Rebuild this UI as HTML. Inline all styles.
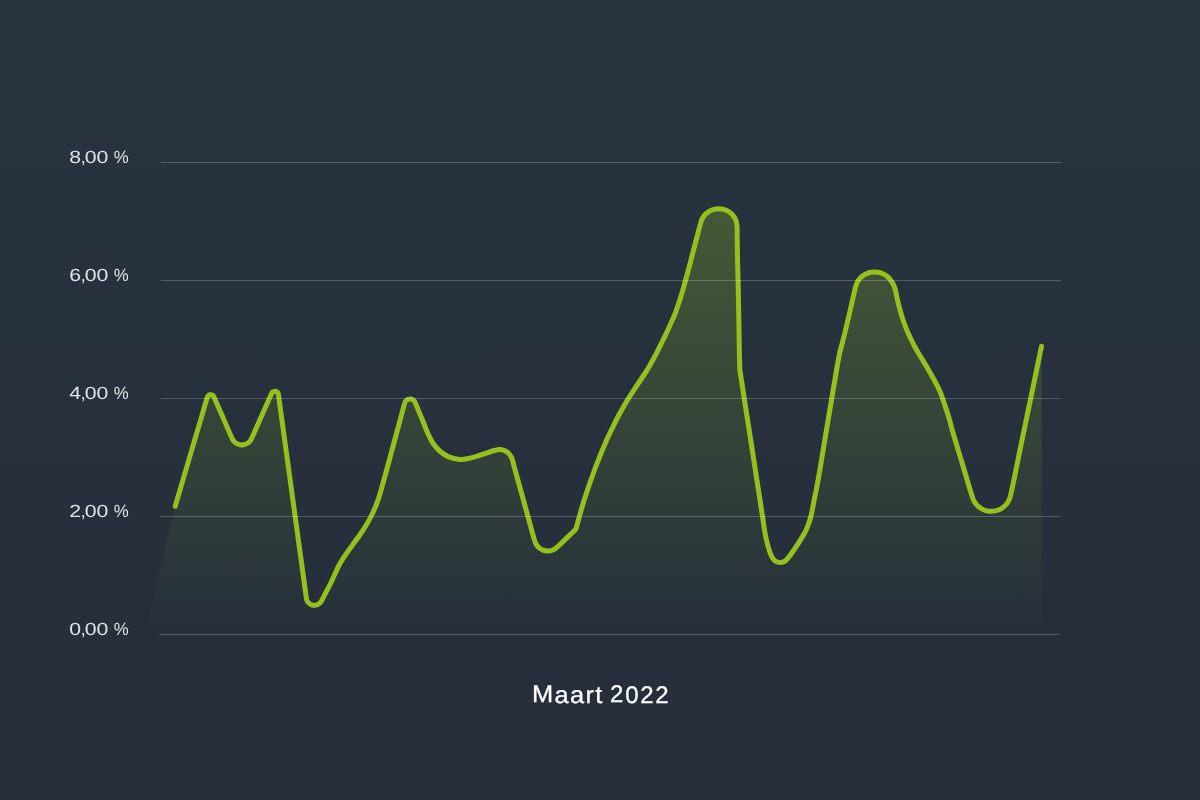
<!DOCTYPE html>
<html><head><meta charset="utf-8"><title>Maart 2022</title>
<style>
html,body{margin:0;padding:0}
body{width:1200px;height:800px;overflow:hidden;position:relative;background:linear-gradient(180deg,#29333f 0%,#252e3a 100%);font-family:"Liberation Sans",sans-serif}
svg{position:absolute;left:0;top:0}
.yl{will-change:transform;position:absolute;left:0;width:140px;height:20px;line-height:20px;font-size:17.7px;color:#dfe3e7;white-space:nowrap}
.yl span{text-rendering:geometricPrecision;position:absolute;top:0;left:0;transform-origin:0 0;display:block}
.title{will-change:transform;position:absolute;left:0;top:680px;width:1200px;height:30px;line-height:30px;font-size:24px;color:#fff;white-space:nowrap;-webkit-text-stroke:0.3px #fff}
.title span{text-rendering:geometricPrecision;position:absolute;left:0;top:0;transform-origin:0 0;display:block}
</style></head><body>
<svg width="1200" height="800" viewBox="0 0 1200 800">
<defs><linearGradient id="g" gradientUnits="userSpaceOnUse" x1="0" y1="206" x2="0" y2="634">
<stop offset="0" stop-color="#95c11f" stop-opacity="0.27"/>
<stop offset="1" stop-color="#95c11f" stop-opacity="0"/>
</linearGradient></defs>
<path d="M175.20 506.25 C185.07 472.70 194.13 441.94 204.82 405.59 C205.86 402.07 206.29 400.36 207.29 397.20 C207.45 396.71 207.53 396.52 207.83 396.11 C208.14 395.70 208.29 395.55 208.71 395.27 C209.14 394.99 209.33 394.90 209.83 394.78 C210.32 394.66 210.53 394.65 211.04 394.71 C211.54 394.76 211.75 394.82 212.20 395.05 C212.66 395.27 212.83 395.40 213.18 395.77 C213.53 396.14 213.64 396.32 213.86 396.78 C215.25 399.79 215.90 401.42 217.37 404.79 C219.19 408.91 219.88 410.49 221.69 414.61 C226.12 424.71 228.10 429.67 232.24 438.65 C232.85 439.96 233.15 440.47 234.13 441.53 C235.11 442.60 235.58 442.96 236.85 443.65 C238.12 444.34 238.68 444.54 240.11 444.78 C241.54 445.02 242.13 445.02 243.56 444.78 C244.99 444.55 245.55 444.36 246.82 443.67 C248.10 442.99 248.57 442.63 249.55 441.57 C250.54 440.50 250.84 440.00 251.45 438.69 C255.64 429.73 257.64 424.78 262.12 414.70 C264.55 409.23 265.47 407.15 267.91 401.68 C269.44 398.23 270.13 396.52 271.56 393.46 C271.77 393.01 271.87 392.85 272.20 392.49 C272.53 392.13 272.68 392.00 273.11 391.77 C273.53 391.53 273.72 391.47 274.20 391.38 C274.68 391.29 274.88 391.29 275.36 391.35 C275.84 391.42 276.03 391.48 276.46 391.70 C276.90 391.92 277.06 392.03 277.40 392.38 C277.75 392.72 277.86 392.88 278.08 393.32 C278.29 393.76 278.34 393.95 278.42 394.43 C278.94 397.77 279.13 399.60 279.64 403.35 C288.06 464.73 294.76 513.57 303.68 578.58 C304.82 586.91 305.25 590.99 306.40 598.40 C306.56 599.44 306.67 599.85 307.13 600.80 C307.59 601.75 307.83 602.10 308.56 602.86 C309.30 603.62 309.64 603.88 310.57 604.38 C311.50 604.87 311.91 605.01 312.95 605.19 C313.99 605.37 314.41 605.38 315.46 605.23 C316.50 605.08 316.91 604.95 317.86 604.49 C318.81 604.02 319.16 603.77 319.91 603.04 C320.67 602.30 320.89 601.94 321.41 601.02 C323.29 597.72 323.84 596.38 325.61 593.01 C327.37 589.65 328.12 588.41 329.80 585.00 C331.85 580.84 332.53 579.20 334.50 575.00 C336.47 570.80 336.98 569.07 339.20 565.00 C341.56 560.66 342.66 559.11 345.40 555.00 C348.25 550.71 349.49 549.18 352.50 545.00 C355.54 540.78 356.85 539.28 359.80 535.00 C362.64 530.88 363.71 529.29 366.30 525.00 C368.41 521.51 369.19 520.16 371.00 516.50 C373.35 511.75 374.21 509.91 376.20 505.00 C377.87 500.88 378.36 499.24 379.70 495.00 C381.01 490.84 381.33 489.20 382.50 485.00 C383.66 480.80 384.11 479.20 385.25 475.00 C391.50 451.98 394.74 439.96 401.25 415.93 C402.74 410.45 403.34 407.81 404.78 402.90 C405.01 402.13 405.13 401.83 405.60 401.17 C406.06 400.52 406.30 400.29 406.96 399.84 C407.62 399.39 407.92 399.26 408.70 399.07 C409.47 398.87 409.80 398.85 410.60 398.94 C411.39 399.03 411.71 399.12 412.42 399.48 C413.13 399.84 413.40 400.04 413.94 400.62 C414.49 401.21 414.65 401.49 414.98 402.22 C416.62 405.85 417.23 407.61 418.86 411.51 C420.50 415.41 421.14 416.89 422.75 420.80 C424.98 426.23 425.58 428.40 428.00 433.75 C429.81 437.74 430.32 439.39 432.80 443.00 C435.40 446.79 436.53 448.23 440.00 451.25 C443.30 454.12 444.72 455.21 448.75 456.90 C452.99 458.68 454.81 459.14 459.40 459.40 C463.88 459.65 465.62 459.05 470.00 458.10 C475.35 456.94 477.28 456.04 482.50 454.40 C487.78 452.74 489.65 451.67 495.00 450.25 C497.29 449.64 498.25 449.27 500.60 449.60 C503.39 449.99 504.58 450.31 506.90 451.90 C509.20 453.47 510.04 454.39 511.25 456.90 C513.26 461.09 513.12 463.04 514.40 467.50 C515.66 471.90 516.08 473.59 517.30 478.00 C520.97 491.25 522.37 496.30 526.04 509.55 C529.71 522.81 531.21 529.19 534.78 541.11 C535.34 542.97 535.65 543.70 536.77 545.29 C537.89 546.88 538.46 547.45 540.05 548.56 C541.65 549.68 542.37 550.02 544.25 550.53 C546.12 551.04 546.92 551.11 548.86 550.96 C550.80 550.81 551.57 550.61 553.35 549.81 C555.12 549.01 555.72 548.49 557.18 547.21 C561.28 543.59 562.61 541.96 566.54 538.15 C570.47 534.35 572.78 532.12 575.90 529.10 C578.67 519.40 580.38 512.12 584.20 500.00 C588.20 487.29 589.89 482.50 594.50 470.00 C598.42 459.39 600.17 455.45 604.50 445.00 C606.26 440.75 607.05 439.17 609.00 435.00 C610.98 430.77 611.79 429.19 613.85 425.00 C615.92 420.79 616.64 419.14 618.85 415.00 C621.12 410.74 622.06 409.16 624.50 405.00 C626.99 400.76 627.96 399.15 630.60 395.00 C633.30 390.75 634.41 389.19 637.20 385.00 C640.00 380.79 641.12 379.22 643.90 375.00 C645.27 372.92 645.82 372.14 647.10 370.00 C649.58 365.84 650.52 364.25 652.85 360.00 C655.14 355.84 655.95 354.23 658.10 350.00 C660.22 345.83 660.94 344.20 663.00 340.00 C665.06 335.80 665.92 334.24 667.90 330.00 C669.45 326.68 669.90 325.35 671.40 322.00 C672.72 319.05 673.41 318.01 674.60 315.00 C676.23 310.86 676.68 309.22 678.10 305.00 C679.51 300.82 680.05 299.22 681.35 295.00 C682.64 290.82 683.06 289.21 684.25 285.00 C685.43 280.81 685.86 279.20 687.00 275.00 C688.36 269.96 688.88 268.05 690.20 263.00 C692.95 252.51 693.94 248.49 696.70 238.00 C698.48 231.23 699.00 228.60 701.02 221.89 C701.59 220.02 701.85 219.29 702.85 217.60 C703.86 215.90 704.35 215.29 705.76 213.91 C707.18 212.53 707.82 212.06 709.55 211.08 C711.29 210.11 712.03 209.81 713.96 209.31 C715.90 208.80 716.69 208.70 718.70 208.70 C720.71 208.70 721.50 208.80 723.44 209.31 C725.37 209.81 726.11 210.11 727.85 211.08 C729.58 212.06 730.22 212.53 731.64 213.91 C733.05 215.29 733.54 215.90 734.55 217.60 C735.55 219.29 735.86 220.00 736.38 221.89 C736.90 223.78 736.90 224.55 737.00 226.50 C737.25 231.28 737.12 233.11 737.20 237.90 C737.37 248.44 737.37 252.46 737.60 263.00 C737.75 270.14 737.95 272.86 738.10 280.00 C738.54 301.00 738.60 309.00 739.00 330.00 C739.30 345.75 739.28 353.00 739.75 367.50 C739.83 370.03 740.18 371.50 740.40 373.50 C747.77 421.08 754.10 462.00 762.50 516.25 C763.80 524.65 763.99 527.90 765.60 536.25 C766.62 541.57 767.19 543.56 768.75 548.75 C769.72 551.98 770.03 553.27 771.60 556.25 C772.77 558.46 773.19 559.51 775.20 561.00 C776.89 562.26 777.89 562.36 780.00 562.50 C781.80 562.62 782.59 562.41 784.20 561.60 C785.84 560.78 786.33 560.16 787.50 558.75 C790.72 554.84 791.73 553.18 794.60 549.00 C797.49 544.79 798.59 543.18 801.20 538.80 C803.72 534.57 804.81 533.00 806.80 528.50 C808.77 524.03 809.37 522.23 810.60 517.50 C812.36 510.76 812.53 508.08 813.90 501.25 C815.68 492.33 816.51 488.96 818.10 480.00 C821.08 463.23 821.99 456.80 824.80 440.00 C827.61 423.20 828.68 416.80 831.50 400.00 C833.97 385.30 834.83 379.68 837.40 365.00 C838.36 359.52 838.68 357.42 839.90 352.00 C840.95 347.34 841.61 345.63 842.80 341.00 C844.09 335.97 844.58 334.05 845.80 329.00 C847.02 323.97 847.42 322.04 848.60 317.00 C849.78 311.96 850.25 310.05 851.40 305.00 C852.60 299.76 852.94 297.73 854.20 292.50 C855.00 289.16 855.24 287.86 856.30 284.60 C856.79 283.10 857.03 282.53 857.89 281.20 C859.00 279.46 859.46 278.78 860.95 277.35 C862.46 275.90 863.13 275.41 864.95 274.39 C866.79 273.37 867.57 273.06 869.60 272.53 C871.65 272.01 872.49 271.90 874.60 271.90 C876.71 271.90 877.55 272.01 879.60 272.53 C881.63 273.06 882.41 273.37 884.25 274.39 C886.07 275.41 886.74 275.90 888.25 277.35 C889.74 278.78 890.13 279.51 891.31 281.20 C892.38 282.73 892.82 283.31 893.60 285.00 C894.50 286.94 894.76 287.73 895.30 289.80 C896.40 294.04 896.48 295.74 897.50 300.00 C898.71 305.06 899.14 307.00 900.60 312.00 C902.21 317.51 902.80 319.62 904.80 325.00 C906.71 330.13 907.56 332.05 909.90 337.00 C912.52 342.55 913.60 344.64 916.60 350.00 C919.48 355.15 920.91 356.91 923.90 362.00 C928.31 369.51 930.04 372.35 934.20 380.00 C936.89 384.95 938.00 386.81 940.20 392.00 C942.46 397.33 942.96 399.51 944.80 405.00 C946.91 411.27 947.72 413.66 949.60 420.00 C950.83 424.16 950.98 425.83 952.20 430.00 C956.34 444.19 958.09 449.55 962.36 463.71 C966.63 477.86 968.19 484.25 972.52 497.41 C973.37 499.98 973.79 501.00 975.38 503.19 C976.96 505.39 977.74 506.17 979.95 507.74 C982.16 509.31 983.15 509.79 985.75 510.55 C988.35 511.32 989.45 511.45 992.15 511.33 C994.86 511.21 995.94 510.99 998.46 509.99 C1000.98 509.00 1001.93 508.43 1003.99 506.68 C1006.06 504.92 1006.77 504.08 1008.15 501.75 C1009.53 499.42 1009.88 498.38 1010.48 495.74 C1014.58 477.74 1016.25 467.91 1020.44 447.76 C1029.28 405.12 1034.48 380.09 1041.50 346.25 L1042 634.5 L145.5 634.5 L146.2 630 C151 608 155 590 159.5 571 L175.2 506.25 Z" fill="url(#g)"/>
<path d="M175.20 506.25 C185.07 472.70 194.13 441.94 204.82 405.59 C205.86 402.07 206.29 400.36 207.29 397.20 C207.45 396.71 207.53 396.52 207.83 396.11 C208.14 395.70 208.29 395.55 208.71 395.27 C209.14 394.99 209.33 394.90 209.83 394.78 C210.32 394.66 210.53 394.65 211.04 394.71 C211.54 394.76 211.75 394.82 212.20 395.05 C212.66 395.27 212.83 395.40 213.18 395.77 C213.53 396.14 213.64 396.32 213.86 396.78 C215.25 399.79 215.90 401.42 217.37 404.79 C219.19 408.91 219.88 410.49 221.69 414.61 C226.12 424.71 228.10 429.67 232.24 438.65 C232.85 439.96 233.15 440.47 234.13 441.53 C235.11 442.60 235.58 442.96 236.85 443.65 C238.12 444.34 238.68 444.54 240.11 444.78 C241.54 445.02 242.13 445.02 243.56 444.78 C244.99 444.55 245.55 444.36 246.82 443.67 C248.10 442.99 248.57 442.63 249.55 441.57 C250.54 440.50 250.84 440.00 251.45 438.69 C255.64 429.73 257.64 424.78 262.12 414.70 C264.55 409.23 265.47 407.15 267.91 401.68 C269.44 398.23 270.13 396.52 271.56 393.46 C271.77 393.01 271.87 392.85 272.20 392.49 C272.53 392.13 272.68 392.00 273.11 391.77 C273.53 391.53 273.72 391.47 274.20 391.38 C274.68 391.29 274.88 391.29 275.36 391.35 C275.84 391.42 276.03 391.48 276.46 391.70 C276.90 391.92 277.06 392.03 277.40 392.38 C277.75 392.72 277.86 392.88 278.08 393.32 C278.29 393.76 278.34 393.95 278.42 394.43 C278.94 397.77 279.13 399.60 279.64 403.35 C288.06 464.73 294.76 513.57 303.68 578.58 C304.82 586.91 305.25 590.99 306.40 598.40 C306.56 599.44 306.67 599.85 307.13 600.80 C307.59 601.75 307.83 602.10 308.56 602.86 C309.30 603.62 309.64 603.88 310.57 604.38 C311.50 604.87 311.91 605.01 312.95 605.19 C313.99 605.37 314.41 605.38 315.46 605.23 C316.50 605.08 316.91 604.95 317.86 604.49 C318.81 604.02 319.16 603.77 319.91 603.04 C320.67 602.30 320.89 601.94 321.41 601.02 C323.29 597.72 323.84 596.38 325.61 593.01 C327.37 589.65 328.12 588.41 329.80 585.00 C331.85 580.84 332.53 579.20 334.50 575.00 C336.47 570.80 336.98 569.07 339.20 565.00 C341.56 560.66 342.66 559.11 345.40 555.00 C348.25 550.71 349.49 549.18 352.50 545.00 C355.54 540.78 356.85 539.28 359.80 535.00 C362.64 530.88 363.71 529.29 366.30 525.00 C368.41 521.51 369.19 520.16 371.00 516.50 C373.35 511.75 374.21 509.91 376.20 505.00 C377.87 500.88 378.36 499.24 379.70 495.00 C381.01 490.84 381.33 489.20 382.50 485.00 C383.66 480.80 384.11 479.20 385.25 475.00 C391.50 451.98 394.74 439.96 401.25 415.93 C402.74 410.45 403.34 407.81 404.78 402.90 C405.01 402.13 405.13 401.83 405.60 401.17 C406.06 400.52 406.30 400.29 406.96 399.84 C407.62 399.39 407.92 399.26 408.70 399.07 C409.47 398.87 409.80 398.85 410.60 398.94 C411.39 399.03 411.71 399.12 412.42 399.48 C413.13 399.84 413.40 400.04 413.94 400.62 C414.49 401.21 414.65 401.49 414.98 402.22 C416.62 405.85 417.23 407.61 418.86 411.51 C420.50 415.41 421.14 416.89 422.75 420.80 C424.98 426.23 425.58 428.40 428.00 433.75 C429.81 437.74 430.32 439.39 432.80 443.00 C435.40 446.79 436.53 448.23 440.00 451.25 C443.30 454.12 444.72 455.21 448.75 456.90 C452.99 458.68 454.81 459.14 459.40 459.40 C463.88 459.65 465.62 459.05 470.00 458.10 C475.35 456.94 477.28 456.04 482.50 454.40 C487.78 452.74 489.65 451.67 495.00 450.25 C497.29 449.64 498.25 449.27 500.60 449.60 C503.39 449.99 504.58 450.31 506.90 451.90 C509.20 453.47 510.04 454.39 511.25 456.90 C513.26 461.09 513.12 463.04 514.40 467.50 C515.66 471.90 516.08 473.59 517.30 478.00 C520.97 491.25 522.37 496.30 526.04 509.55 C529.71 522.81 531.21 529.19 534.78 541.11 C535.34 542.97 535.65 543.70 536.77 545.29 C537.89 546.88 538.46 547.45 540.05 548.56 C541.65 549.68 542.37 550.02 544.25 550.53 C546.12 551.04 546.92 551.11 548.86 550.96 C550.80 550.81 551.57 550.61 553.35 549.81 C555.12 549.01 555.72 548.49 557.18 547.21 C561.28 543.59 562.61 541.96 566.54 538.15 C570.47 534.35 572.78 532.12 575.90 529.10 C578.67 519.40 580.38 512.12 584.20 500.00 C588.20 487.29 589.89 482.50 594.50 470.00 C598.42 459.39 600.17 455.45 604.50 445.00 C606.26 440.75 607.05 439.17 609.00 435.00 C610.98 430.77 611.79 429.19 613.85 425.00 C615.92 420.79 616.64 419.14 618.85 415.00 C621.12 410.74 622.06 409.16 624.50 405.00 C626.99 400.76 627.96 399.15 630.60 395.00 C633.30 390.75 634.41 389.19 637.20 385.00 C640.00 380.79 641.12 379.22 643.90 375.00 C645.27 372.92 645.82 372.14 647.10 370.00 C649.58 365.84 650.52 364.25 652.85 360.00 C655.14 355.84 655.95 354.23 658.10 350.00 C660.22 345.83 660.94 344.20 663.00 340.00 C665.06 335.80 665.92 334.24 667.90 330.00 C669.45 326.68 669.90 325.35 671.40 322.00 C672.72 319.05 673.41 318.01 674.60 315.00 C676.23 310.86 676.68 309.22 678.10 305.00 C679.51 300.82 680.05 299.22 681.35 295.00 C682.64 290.82 683.06 289.21 684.25 285.00 C685.43 280.81 685.86 279.20 687.00 275.00 C688.36 269.96 688.88 268.05 690.20 263.00 C692.95 252.51 693.94 248.49 696.70 238.00 C698.48 231.23 699.00 228.60 701.02 221.89 C701.59 220.02 701.85 219.29 702.85 217.60 C703.86 215.90 704.35 215.29 705.76 213.91 C707.18 212.53 707.82 212.06 709.55 211.08 C711.29 210.11 712.03 209.81 713.96 209.31 C715.90 208.80 716.69 208.70 718.70 208.70 C720.71 208.70 721.50 208.80 723.44 209.31 C725.37 209.81 726.11 210.11 727.85 211.08 C729.58 212.06 730.22 212.53 731.64 213.91 C733.05 215.29 733.54 215.90 734.55 217.60 C735.55 219.29 735.86 220.00 736.38 221.89 C736.90 223.78 736.90 224.55 737.00 226.50 C737.25 231.28 737.12 233.11 737.20 237.90 C737.37 248.44 737.37 252.46 737.60 263.00 C737.75 270.14 737.95 272.86 738.10 280.00 C738.54 301.00 738.60 309.00 739.00 330.00 C739.30 345.75 739.28 353.00 739.75 367.50 C739.83 370.03 740.18 371.50 740.40 373.50 C747.77 421.08 754.10 462.00 762.50 516.25 C763.80 524.65 763.99 527.90 765.60 536.25 C766.62 541.57 767.19 543.56 768.75 548.75 C769.72 551.98 770.03 553.27 771.60 556.25 C772.77 558.46 773.19 559.51 775.20 561.00 C776.89 562.26 777.89 562.36 780.00 562.50 C781.80 562.62 782.59 562.41 784.20 561.60 C785.84 560.78 786.33 560.16 787.50 558.75 C790.72 554.84 791.73 553.18 794.60 549.00 C797.49 544.79 798.59 543.18 801.20 538.80 C803.72 534.57 804.81 533.00 806.80 528.50 C808.77 524.03 809.37 522.23 810.60 517.50 C812.36 510.76 812.53 508.08 813.90 501.25 C815.68 492.33 816.51 488.96 818.10 480.00 C821.08 463.23 821.99 456.80 824.80 440.00 C827.61 423.20 828.68 416.80 831.50 400.00 C833.97 385.30 834.83 379.68 837.40 365.00 C838.36 359.52 838.68 357.42 839.90 352.00 C840.95 347.34 841.61 345.63 842.80 341.00 C844.09 335.97 844.58 334.05 845.80 329.00 C847.02 323.97 847.42 322.04 848.60 317.00 C849.78 311.96 850.25 310.05 851.40 305.00 C852.60 299.76 852.94 297.73 854.20 292.50 C855.00 289.16 855.24 287.86 856.30 284.60 C856.79 283.10 857.03 282.53 857.89 281.20 C859.00 279.46 859.46 278.78 860.95 277.35 C862.46 275.90 863.13 275.41 864.95 274.39 C866.79 273.37 867.57 273.06 869.60 272.53 C871.65 272.01 872.49 271.90 874.60 271.90 C876.71 271.90 877.55 272.01 879.60 272.53 C881.63 273.06 882.41 273.37 884.25 274.39 C886.07 275.41 886.74 275.90 888.25 277.35 C889.74 278.78 890.13 279.51 891.31 281.20 C892.38 282.73 892.82 283.31 893.60 285.00 C894.50 286.94 894.76 287.73 895.30 289.80 C896.40 294.04 896.48 295.74 897.50 300.00 C898.71 305.06 899.14 307.00 900.60 312.00 C902.21 317.51 902.80 319.62 904.80 325.00 C906.71 330.13 907.56 332.05 909.90 337.00 C912.52 342.55 913.60 344.64 916.60 350.00 C919.48 355.15 920.91 356.91 923.90 362.00 C928.31 369.51 930.04 372.35 934.20 380.00 C936.89 384.95 938.00 386.81 940.20 392.00 C942.46 397.33 942.96 399.51 944.80 405.00 C946.91 411.27 947.72 413.66 949.60 420.00 C950.83 424.16 950.98 425.83 952.20 430.00 C956.34 444.19 958.09 449.55 962.36 463.71 C966.63 477.86 968.19 484.25 972.52 497.41 C973.37 499.98 973.79 501.00 975.38 503.19 C976.96 505.39 977.74 506.17 979.95 507.74 C982.16 509.31 983.15 509.79 985.75 510.55 C988.35 511.32 989.45 511.45 992.15 511.33 C994.86 511.21 995.94 510.99 998.46 509.99 C1000.98 509.00 1001.93 508.43 1003.99 506.68 C1006.06 504.92 1006.77 504.08 1008.15 501.75 C1009.53 499.42 1009.88 498.38 1010.48 495.74 C1014.58 477.74 1016.25 467.91 1020.44 447.76 C1029.28 405.12 1034.48 380.09 1041.50 346.25" fill="none" stroke="#95c11f" stroke-width="5" stroke-linecap="round" stroke-linejoin="round"/>
<rect x="161.20" y="162.0" width="900.30" height="1" fill="#fff" fill-opacity="0.21"/>
<rect x="160.75" y="280.0" width="900.33" height="1" fill="#fff" fill-opacity="0.21"/>
<rect x="160.30" y="398.0" width="900.35" height="1" fill="#fff" fill-opacity="0.21"/>
<rect x="159.85" y="516.0" width="900.37" height="1" fill="#fff" fill-opacity="0.21"/>
<rect x="159.40" y="634.0" width="900.40" height="1" fill="#fff" fill-opacity="0.21"/>

</svg>
<div class="yl" style="top:146.9px"><span style="transform:translateX(69.25px) rotate(0.03deg) scaleX(1.200)">8</span><span style="transform:translateX(80.70px) rotate(0.03deg) scaleX(1.000)">,</span><span style="transform:translateX(84.80px) rotate(0.03deg) scaleX(1.200)">0</span><span style="transform:translateX(96.40px) rotate(0.03deg) scaleX(1.200)">0</span><span style="transform:translateX(108px)"> </span><span style="transform:translateX(113.85px) rotate(0.03deg) scaleX(0.950)">%</span></div>
<div class="yl" style="top:264.9px"><span style="transform:translateX(69.25px) rotate(0.03deg) scaleX(1.200)">6</span><span style="transform:translateX(80.70px) rotate(0.03deg) scaleX(1.000)">,</span><span style="transform:translateX(84.80px) rotate(0.03deg) scaleX(1.200)">0</span><span style="transform:translateX(96.40px) rotate(0.03deg) scaleX(1.200)">0</span><span style="transform:translateX(108px)"> </span><span style="transform:translateX(113.85px) rotate(0.03deg) scaleX(0.950)">%</span></div>
<div class="yl" style="top:382.9px"><span style="transform:translateX(69.25px) rotate(0.03deg) scaleX(1.200)">4</span><span style="transform:translateX(80.70px) rotate(0.03deg) scaleX(1.000)">,</span><span style="transform:translateX(84.80px) rotate(0.03deg) scaleX(1.200)">0</span><span style="transform:translateX(96.40px) rotate(0.03deg) scaleX(1.200)">0</span><span style="transform:translateX(108px)"> </span><span style="transform:translateX(113.85px) rotate(0.03deg) scaleX(0.950)">%</span></div>
<div class="yl" style="top:500.9px"><span style="transform:translateX(69.25px) rotate(0.03deg) scaleX(1.200)">2</span><span style="transform:translateX(80.70px) rotate(0.03deg) scaleX(1.000)">,</span><span style="transform:translateX(84.80px) rotate(0.03deg) scaleX(1.200)">0</span><span style="transform:translateX(96.40px) rotate(0.03deg) scaleX(1.200)">0</span><span style="transform:translateX(108px)"> </span><span style="transform:translateX(113.85px) rotate(0.03deg) scaleX(0.950)">%</span></div>
<div class="yl" style="top:618.9px"><span style="transform:translateX(69.25px) rotate(0.03deg) scaleX(1.200)">0</span><span style="transform:translateX(80.70px) rotate(0.03deg) scaleX(1.000)">,</span><span style="transform:translateX(84.80px) rotate(0.03deg) scaleX(1.200)">0</span><span style="transform:translateX(96.40px) rotate(0.03deg) scaleX(1.200)">0</span><span style="transform:translateX(108px)"> </span><span style="transform:translateX(113.85px) rotate(0.03deg) scaleX(0.950)">%</span></div>

<div class="title"><span style="letter-spacing:1.2px;transform:translate(532.1px,0.5px) rotate(0.02deg) scaleX(1.06)">Maart</span><span style="transform:translateX(604px)"> </span><span style="letter-spacing:1.7px;transform:translate(610.1px,0.5px) rotate(0.02deg)">2022</span></div>
</body></html>
